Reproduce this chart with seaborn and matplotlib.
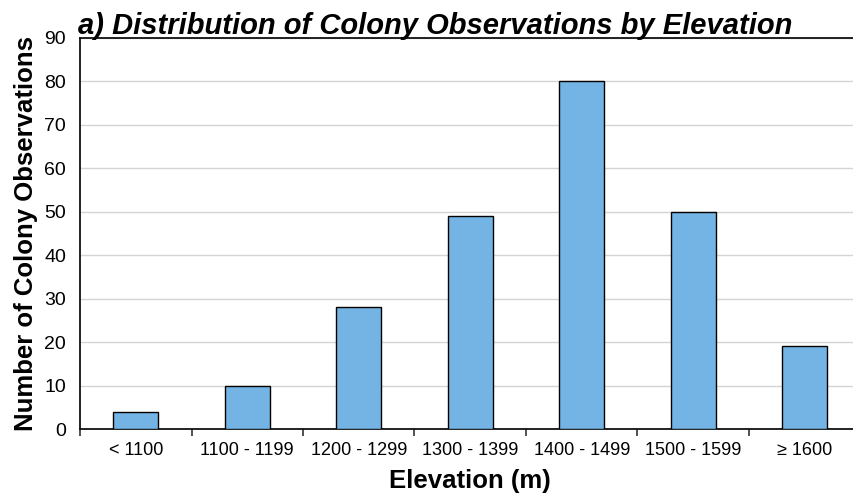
import numpy as np
import pandas as pd
import matplotlib
matplotlib.use('Agg')
import matplotlib.pyplot as plt
import seaborn as sns

# data
categories = ['< 1100', '1100 - 1199', '1200 - 1299', '1300 - 1399',
              '1400 - 1499', '1500 - 1599', '\u2265 1600']
counts = [4, 10, 28, 49, 80, 50, 19]
y_ticks = [0, 10, 20, 30, 40, 50, 60, 70, 80, 90]

df = pd.DataFrame({'elev': categories, 'n': counts})

sns.set_style('white')
plt.rcParams['font.family'] = ['Liberation Sans', 'DejaVu Sans']
plt.rcParams['text.color'] = 'black'
plt.rcParams['axes.labelcolor'] = 'black'

fig = plt.figure(figsize=(8.54, 4.98), dpi=100)
ax = fig.add_axes([80 / 854, 1 - 429 / 498, 780.5 / 854, (429 - 38) / 498])

sns.barplot(data=df, x='elev', y='n', color='#73b4e4', width=0.4,
            edgecolor='black', linewidth=1.0, saturation=1, ax=ax, zorder=3)

ax.set_xlim(-0.5, len(categories) - 0.5)
ax.set_ylim(0, 90)
ax.set_yticks(y_ticks)
ax.yaxis.grid(True, color='#d4d4d4', linewidth=1.0, zorder=0)
ax.set_axisbelow(True)

# labels centred on bars, tick marks between categories
ax.set_xticks(np.arange(len(categories)))
ax.set_xticklabels(categories)
ax.set_xticks(np.arange(len(categories)) - 0.5, minor=True)
ax.tick_params(axis='x', which='major', length=0, pad=9)
ax.tick_params(axis='x', which='minor', length=5, width=1.2, color='#333333',
               direction='out', bottom=True)
ax.tick_params(axis='y', length=7, width=1.2, color='#222222', direction='out', pad=3)

for lab in ax.get_xticklabels():
    lab.set_fontsize(13)
    lab.set_color('black')
for lab in ax.get_yticklabels():
    lab.set_fontsize(14)
    lab.set_color('black')

for side in ['left', 'top', 'bottom']:
    ax.spines[side].set_visible(True)
    ax.spines[side].set_color('#111111')
    ax.spines[side].set_linewidth(1.3)
ax.spines['right'].set_visible(False)

ax.set_xlabel('Elevation (m)', fontsize=18.5, fontweight='bold')
ax.set_ylabel('Number of Colony Observations', fontsize=18.5, fontweight='bold')
ax.xaxis.set_label_coords(0.5, -0.102)
ax.yaxis.set_label_coords(-0.054, 0.5)
ax.set_title('a) Distribution of Colony Observations by Elevation', loc='left',
             fontsize=21, fontweight='bold', fontstyle='italic', pad=3, x=-0.003)

fig.savefig('out.png', dpi=100)
